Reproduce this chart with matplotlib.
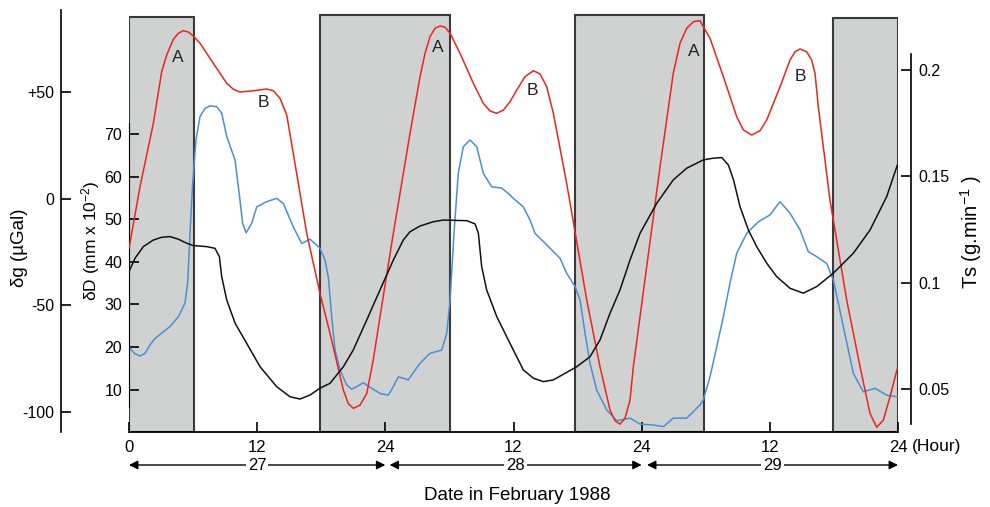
import matplotlib
matplotlib.use('Agg')
import matplotlib.pyplot as plt
import matplotlib.transforms as mtransforms

plt.rcParams['font.family'] = ['Liberation Sans', 'DejaVu Sans']
plt.rcParams['mathtext.default'] = 'regular'

# red curve: delta g (microGal) vs hour
g_hour = [0, 1.03, 2.28, 3.06, 3.53, 4.15, 4.62, 5.08, 5.55, 6.02, 6.65, 7.89, 9.15, 9.77,
          10.39, 11.64, 12.89, 13.51, 14.14, 14.77, 15.38, 16.64, 17.88,
          18.82, 20.07, 20.53, 21.0, 21.63, 22.26, 22.87, 23.5, 24.75, 26.31, 27.25, 27.72,
          28.18, 28.65, 29.12, 29.59, 30.06, 30.99, 32.24, 33.17, 33.8, 34.43, 35.05, 35.67,
          36.3, 37.08, 37.86, 38.48, 39.11, 39.73, 40.98, 42.86, 44.1, 45.04, 45.51, 45.97,
          46.44, 46.91, 47.22, 48.47, 49.72, 50.96, 51.59, 52.22, 52.84, 53.46,
          53.77, 54.4, 55.65, 56.9, 57.52, 58.3, 59.08, 59.71, 60.96, 61.89, 62.36, 62.83,
          63.45, 63.92, 64.23, 64.54, 65.63, 67.2, 68.45, 69.38, 70.01, 70.63, 71.25, 71.94]
g_val = [-23.4, 5.5, 35.3, 59.5, 67.4, 74.7, 77.6, 78.8, 78.2, 76.3, 72.9, 63.5, 54.1, 51.3,
         50.0, 50.6, 51.4, 50.6, 47.0, 39.2, 21.2, -16.3, -44.5,
         -63.3, -89.9, -96.2, -98.5, -97.0, -91.5, -75.8, -55.5, -16.3, 30.6, 57.2, 68.2,
         76.0, 79.9, 81.0, 80.4, 77.6, 68.2, 54.1, 44.7, 41.1, 40.0, 41.5, 45.4,
         50.9, 57.2, 60.0, 58.5, 52.5, 40.0, 7.1, -47.7, -79.0, -99.3, -104.3, -105.9,
         -103.2, -94.6, -79.0, -32.0, 14.9, 58.8, 72.9, 79.9, 83.0, 83.5,
         80.7, 75.2, 57.2, 38.4, 32.2, 29.8, 31.8, 36.9, 52.5, 65.0, 68.9, 70.2,
         68.9, 65.0, 58.8, 43.1, -0.7, -47.7, -79.0, -100.9, -107.4, -104.0, -93.1, -79.7]

# blue curve: delta D (mm x 10^-2) vs hour
d_hour = [0.09, 0.56, 1.03, 1.5, 1.97, 2.43, 3.84, 4.62, 5.24, 5.49, 5.71, 5.96, 6.27, 6.65,
          7.12, 7.58, 8.21, 8.68, 9.15, 9.93, 10.39, 10.64, 10.96, 11.48, 11.96, 12.89, 13.83,
          14.45, 15.38, 16.17, 16.95, 17.88,
          18.35, 18.66, 18.98, 19.29, 19.76, 20.38, 20.85, 21.32, 21.94, 22.72, 23.5, 24.28,
          24.75, 25.22, 26.15, 27.25, 28.18, 29.28, 29.75, 30.06, 30.43, 30.83, 31.3, 31.93,
          32.56, 33.17, 33.96, 34.9, 35.67,
          35.98, 36.92, 37.55, 38.01, 39.42, 40.36, 40.98, 41.76, 42.23, 42.7, 43.16, 43.79,
          44.73, 45.66, 46.91, 47.85, 49.09, 50.03, 50.96, 52.22, 53.46,
          53.77, 54.4, 55.03, 55.65, 56.27, 56.9, 57.84, 58.93, 60.02, 60.49, 60.96, 61.89,
          62.83, 63.6, 64.39, 65.33, 65.95, 66.88, 67.82, 68.75, 69.85, 70.94, 71.94]
d_val = [19.7, 18.4, 17.9, 18.5, 20.5, 22.0, 24.8, 27.1, 30.3, 35.0, 46.7, 58.4, 68.6, 74.1,
         76.0, 76.6, 76.4, 74.9, 69.4, 63.9, 54.5, 49.0, 46.8, 49.0, 52.9, 54.1, 54.9,
         53.7, 48.2, 44.3, 45.3, 43.2,
         40.4, 36.5, 27.1, 19.3, 14.6, 11.1, 10.1, 10.7, 11.6, 10.3, 9.1, 8.7,
         10.7, 13.0, 12.3, 16.2, 18.5, 19.3, 23.2, 31.0, 46.7, 60.8, 67.0, 68.6,
         67.0, 60.8, 57.6, 57.3, 55.7,
         54.9, 52.9, 49.8, 46.7, 43.2, 40.8, 37.3, 34.2, 31.0, 23.2, 16.2, 9.9,
         5.2, 2.7, 3.3, 1.9, 1.7, 1.3, 3.3, 3.3, 6.4,
         7.6, 13.0, 20.1, 27.1, 35.0, 42.0, 46.7, 49.4, 51.0, 52.6, 54.1, 51.4,
         47.5, 42.4, 41.2, 39.6, 35.7, 24.8, 13.8, 9.5, 10.3, 8.7, 8.3]

# black curve: Ts (g/min) vs hour
t_hour = [0, 0.56, 1.34, 2.28, 3.06, 3.84, 4.62, 5.4, 6.02, 7.27, 8.05, 8.46, 8.68, 9.15,
          9.93, 11.02, 12.27, 13.83, 15.07, 16.01, 16.95, 17.88,
          18.82, 20.07, 21.0, 22.26, 23.5, 24.75, 25.68, 26.31, 27.25, 28.49, 29.43, 31.62,
          32.4, 32.71, 33.02, 33.49, 34.43, 35.67,
          36.3, 36.92, 37.86, 38.79, 39.73, 41.92, 43.16, 44.1, 45.04, 45.97, 46.91, 47.85,
          49.41, 50.96, 52.22, 53.46,
          53.77, 54.71, 55.5, 56.12, 56.6, 57.21, 57.99, 58.77, 59.71, 60.64, 61.89, 63.14,
          64.39, 65.95, 67.82, 69.38, 70.94, 71.94]
t_val = [0.1051, 0.1114, 0.1169, 0.1200, 0.1213, 0.1216, 0.1204, 0.1185, 0.1174, 0.1169,
         0.1161, 0.1122, 0.1028, 0.0918, 0.0809, 0.0714, 0.0604, 0.0510, 0.0463, 0.0452,
         0.0471, 0.0503,
         0.0526, 0.0604, 0.0683, 0.0824, 0.0965, 0.1106, 0.1200, 0.1239, 0.1266, 0.1286,
         0.1294, 0.1291, 0.1276, 0.1232, 0.1075, 0.0965, 0.0840, 0.0714,
         0.0651, 0.0589, 0.0550, 0.0534, 0.0542, 0.0604, 0.0651, 0.0730, 0.0856, 0.0965,
         0.1106, 0.1232, 0.1373, 0.1483, 0.1538, 0.1569,
         0.1577, 0.1585, 0.1588, 0.1553, 0.1483, 0.1357, 0.1247, 0.1169, 0.1091, 0.1028,
         0.0973, 0.0950, 0.0981, 0.1044, 0.1138, 0.1247, 0.1404, 0.1553]

night_start = [0, 17.9, 41.8, 65.9]
night_end = [6.1, 30.1, 53.8, 72]
night_top = [0.983, 0.988, 0.988, 0.981]

peak_labels = ['A', 'B', 'A', 'B', 'A', 'B']
peak_hour = [4.6, 12.6, 28.9, 37.8, 52.9, 62.9]
peak_g = [66.4, 45.3, 70.7, 50.9, 68.8, 57.5]

hour_ticks = [0, 12, 24, 36, 48, 60, 72]
hour_labels = ['0', '12', '24', '12', '24', '12', '24']
days = ['27', '28', '29']
day_spans = [(0, 24.0), (24.4, 48.0), (48.5, 72)]

W, H = 990, 507
fig = plt.figure(figsize=(W / 100, H / 100), dpi=100)
ax = fig.add_axes([129 / W, 1 - 432 / H, 769 / W, 422 / H])
ax.patch.set_visible(False)
ax.set_xlim(0, 72)
ax.set_ylim(0.05, 99.1)

for s, e, top in zip(night_start, night_end, night_top):
    ax.axvspan(s, e, ymin=0, ymax=top, facecolor='#d0d1d1', edgecolor='#3a3a3a',
               lw=1.5, zorder=0)

ax.plot(d_hour, d_val, color='#4a8fd4', lw=1.1, zorder=2)

for side in ['top', 'right']:
    ax.spines[side].set_visible(False)
ax.spines['left'].set_bounds(5.9, 72.6)
ax.spines['bottom'].set_linewidth(1.3)
ax.set_yticks([10, 20, 30, 40, 50, 60, 70])
ax.tick_params(axis='y', direction='in', length=7, width=1.2, labelsize=11.5, pad=5)
ax.set_xticks(hour_ticks)
ax.set_xticklabels(hour_labels)
ax.tick_params(axis='x', direction='in', length=7, width=1.2, labelsize=12, pad=6)
fig.text(912 / W, 1 - 446 / H, '(Hour)', ha='left', va='center', fontsize=12.5)

# delta g axis (left, outward)
axg = ax.twinx()
axg.set_ylim(-109.6, 88.5)
axg.plot(g_hour, g_val, color='#e8251f', lw=1.1)
for side in ['top', 'right', 'bottom']:
    axg.spines[side].set_visible(False)
axg.spines['left'].set_visible(True)
axg.spines['left'].set_position(('outward', 49))
axg.spines['left'].set_linewidth(1.2)
axg.yaxis.set_ticks_position('left')
axg.yaxis.set_label_position('left')
axg.set_yticks([50, 0, -50, -100])
axg.set_yticklabels(['+50', '0', '-50', '-100'])
axg.tick_params(axis='y', direction='in', length=7, width=1.2, labelsize=11.5, pad=5)
for lab, h, g in zip(peak_labels, peak_hour, peak_g):
    axg.text(h, g, lab, ha='center', va='center', fontsize=12.5, color='#222222')

# Ts axis (right, outward)
axt = ax.twinx()
axt.set_ylim(0.0297, 0.2282)
axt.plot(t_hour, t_val, color='#111111', lw=1.1)
for side in ['top', 'left', 'bottom']:
    axt.spines[side].set_visible(False)
axt.spines['right'].set_position(('outward', 9.4))
axt.spines['right'].set_bounds(0.0335, 0.2075)
axt.spines['right'].set_linewidth(1.2)
axt.set_yticks([0.05, 0.1, 0.15, 0.2])
axt.set_yticklabels(['0.05', '0.1', '0.15', '0.2'])
axt.tick_params(axis='y', direction='in', length=7, width=1.2, labelsize=11.5, pad=5)

# axis titles
fig.text(20 / W, 1 - 248 / H, 'δg (µGal)', rotation=90, ha='center', va='center', fontsize=13.5)
fig.text(91 / W, 1 - 241 / H, 'δD (mm x 10$^{-2}$)', rotation=90, ha='center', va='center', fontsize=12.5)
fig.text(971 / W, 1 - 232 / H, 'Ts (g.min$^{-1}$ )', rotation=90, ha='center', va='center', fontsize=14.5)

# day arrows
trans = mtransforms.blended_transform_factory(ax.transData, fig.transFigure)
ya = 1 - 465 / H
for d, (x0, x1) in zip(days, day_spans):
    ax.annotate('', xy=(x1, ya), xytext=(x0, ya), xycoords=trans, textcoords=trans,
                arrowprops=dict(arrowstyle='<|-|>', color='black', lw=1.0,
                                shrinkA=0, shrinkB=0, mutation_scale=13),
                annotation_clip=False)
    ax.text((x0 + x1) / 2, ya, d, transform=trans, ha='center', va='center', fontsize=12,
            bbox=dict(facecolor='white', edgecolor='none', pad=1.5))

fig.text(517 / W, 1 - 495 / H, 'Date in February 1988', ha='center', va='center', fontsize=13.5)

fig.savefig('out.png', dpi=100)
